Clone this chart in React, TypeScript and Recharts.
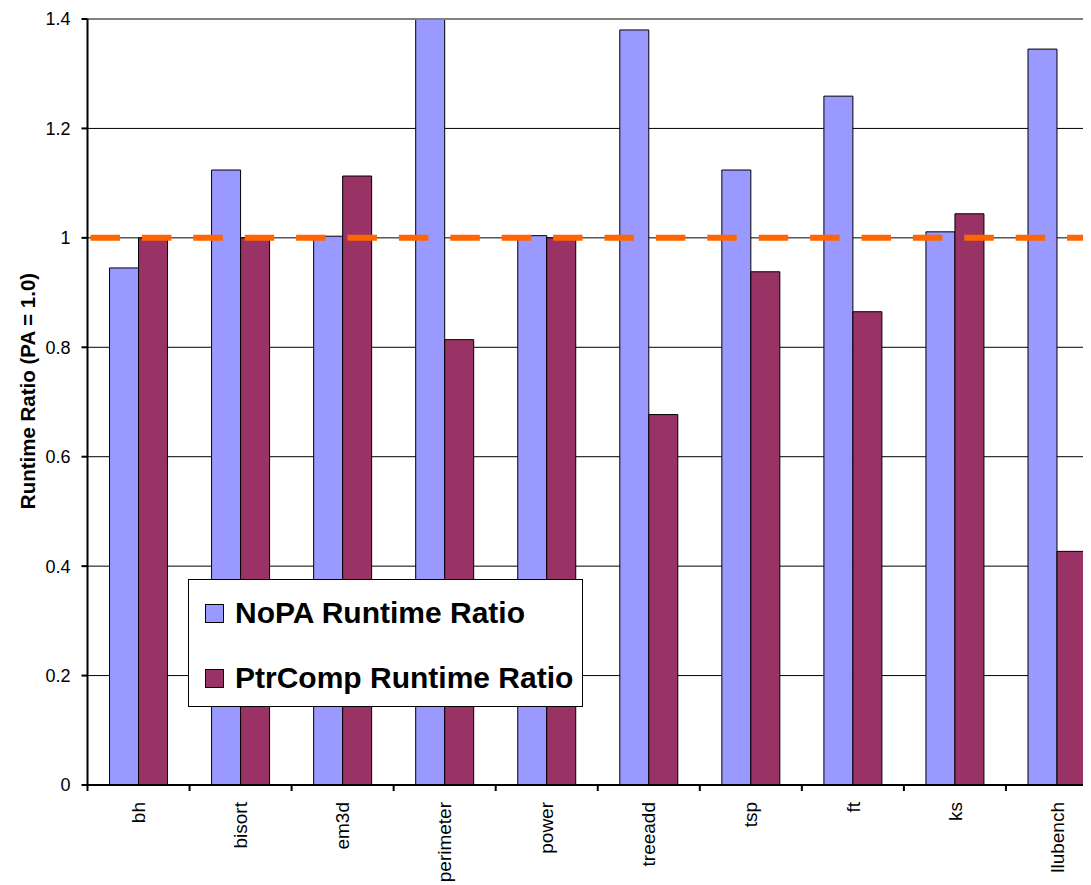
import React from "react";
import {
    BarChart,
    Bar,
    XAxis,
    YAxis,
    CartesianGrid,
    Legend,
    ReferenceLine,
} from "recharts";

const categories = ["bh", "bisort", "em3d", "perimeter", "power", "treeadd", "tsp", "ft", "ks", "llubench"];
const noPaRatio = [0.945, 1.124, 1.003, 1.41, 1.004, 1.38, 1.124, 1.259, 1.011, 1.345];
const ptrCompRatio = [1.0, 1.0, 1.113, 0.814, 1.0, 0.677, 0.938, 0.865, 1.044, 0.427];
const yTicks = [0, 0.2, 0.4, 0.6, 0.8, 1, 1.2, 1.4];

const FONT = '"Liberation Sans", Arial, Helvetica, sans-serif';
const BLUE = "#9999FF";
const MAROON = "#993366";
const LABEL_GAP = 17;

const data = categories.map((name, i) => ({
    name,
    noPA: noPaRatio[i],
    ptrComp: ptrCompRatio[i],
}));

// category label, rotated, plus the tick mark on the left edge of the band
const CategoryTick = (props: any) => {
    const { x, y, payload } = props;
    const axisY = y - LABEL_GAP;
    const edgeX = x - (payload.offset || 0);
    return (
        <g>
            <line x1={edgeX} x2={edgeX} y1={axisY} y2={axisY + 6} stroke="#000" strokeWidth={2} />
            <text
                x={x}
                y={y}
                dy="0.35em"
                transform={`rotate(-90 ${x} ${y})`}
                textAnchor="end"
                fontSize={19}
                fontFamily={FONT}
                fill="#000"
            >
                {payload.value}
            </text>
        </g>
    );
};

const LegendBox = (props: any) => {
    const { payload } = props;
    return (
        <div
            style={{
                width: 393,
                height: 126,
                border: "1.5px solid #000",
                background: "#fff",
                fontFamily: FONT,
                fontWeight: "bold",
                fontSize: 30,
                position: "relative",
            }}
        >
            {(payload || []).map((entry: any, i: number) => (
                <div
                    key={entry.value}
                    style={{
                        position: "absolute",
                        left: 16,
                        top: 33 + i * 65 - 18,
                        height: 36,
                        display: "flex",
                        alignItems: "center",
                        whiteSpace: "nowrap",
                    }}
                >
                    <span
                        style={{
                            display: "inline-block",
                            width: 17,
                            height: 17,
                            background: entry.color,
                            border: "1px solid #000",
                            marginRight: 11,
                        }}
                    />
                    <span style={{ color: "#000" }}>{entry.value}</span>
                </div>
            ))}
        </div>
    );
};

const YLabel = (props: any) => {
    const { viewBox } = props;
    const cx = viewBox.x + 19;
    const cy = viewBox.y + viewBox.height / 2 - 11;
    return (
        <text
            x={cx}
            y={cy}
            transform={`rotate(-90 ${cx} ${cy})`}
            textAnchor="middle"
            dominantBaseline="central"
            fontSize={20.5}
            fontWeight="bold"
            fontFamily={FONT}
            fill="#000"
        >
            Runtime Ratio (PA = 1.0)
        </text>
    );
};

export default function App() {
    return (
        <div style={{ width: 1083, height: 877, overflow: "hidden", background: "#fff" }}>
            <BarChart
                width={1100}
                height={877}
                data={data}
                margin={{ top: 11, right: 0, bottom: 0, left: 0 }}
                barCategoryGap="21.6%"
                barGap={0}
            >
                <CartesianGrid vertical={false} stroke="#000" strokeWidth={1} strokeOpacity={1} />
                <XAxis
                    dataKey="name"
                    height={100}
                    axisLine={{ stroke: "#000", strokeWidth: 2 }}
                    tickLine={false}
                    tickSize={0}
                    tickMargin={LABEL_GAP}
                    interval={0}
                    tick={<CategoryTick />}
                />
                <YAxis
                    width={79.5}
                    domain={[0, 1.4]}
                    ticks={yTicks}
                    allowDataOverflow
                    tickSize={6}
                    tickMargin={11}
                    axisLine={{ stroke: "#000", strokeWidth: 2 }}
                    tickLine={{ stroke: "#000", strokeWidth: 2 }}
                    tick={{ fontSize: 18, fontFamily: FONT, fill: "#000" }}
                    label={<YLabel />}
                />
                <Legend
                    layout="horizontal"
                    verticalAlign="middle"
                    align="center"
                    content={<LegendBox />}
                    wrapperStyle={{ left: 180, top: 571, width: 396, height: 129 }}
                />
                <Bar
                    dataKey="noPA"
                    name="NoPA Runtime Ratio"
                    fill={BLUE}
                    stroke="#000"
                    strokeWidth={1}
                    isAnimationActive={false}
                />
                <Bar
                    dataKey="ptrComp"
                    name="PtrComp Runtime Ratio"
                    fill={MAROON}
                    stroke="#000"
                    strokeWidth={1}
                    isAnimationActive={false}
                />
                <ReferenceLine y={1.4} stroke="#808080" strokeWidth={2} />
                <ReferenceLine
                    y={1}
                    stroke="#FF6600"
                    strokeWidth={6}
                    strokeDasharray="29.5 21.9"
                    strokeDashoffset={-3}
                />
            </BarChart>
        </div>
    );
}
